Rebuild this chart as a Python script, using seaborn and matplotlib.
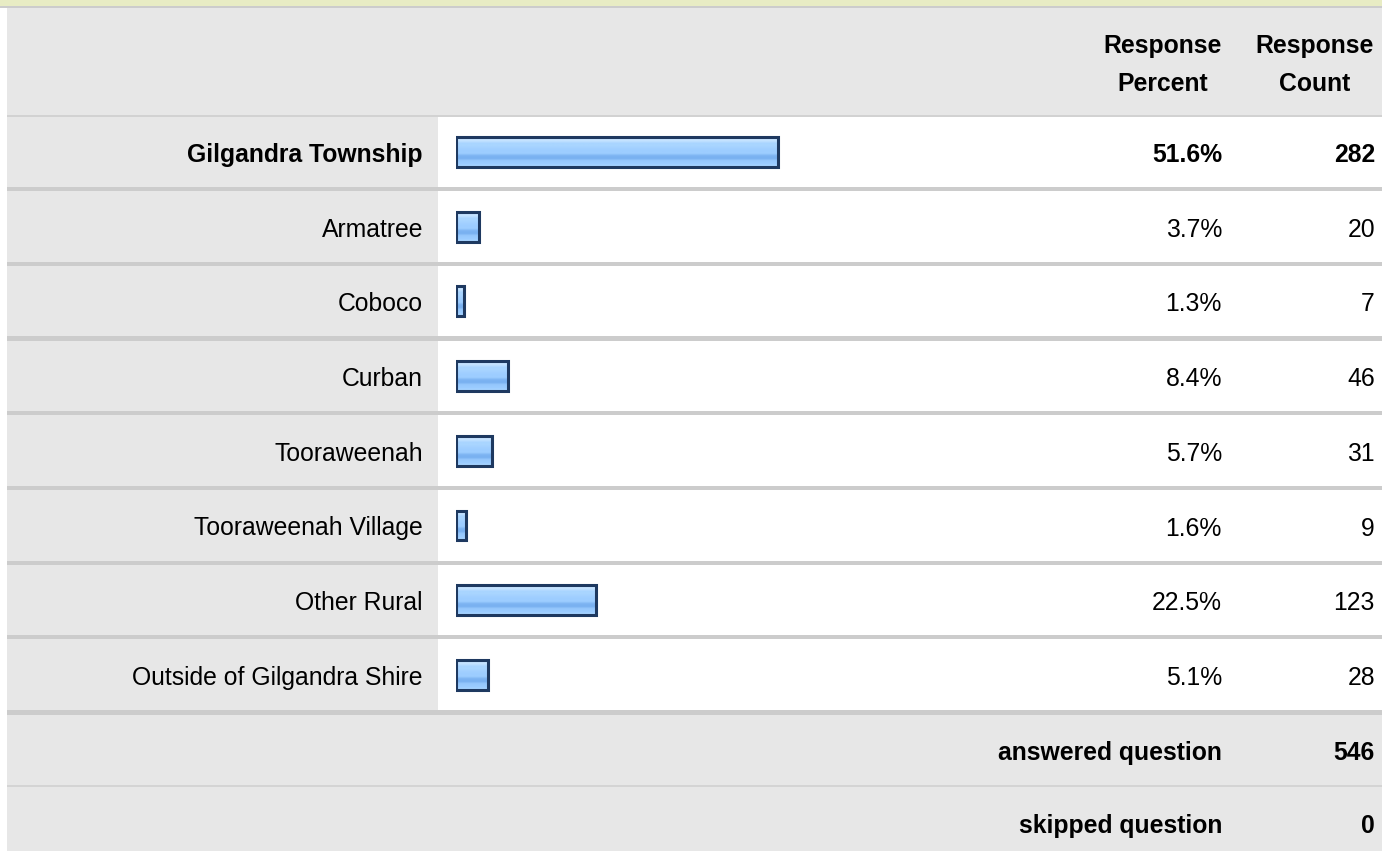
import numpy as np
import matplotlib
matplotlib.use("Agg")
import matplotlib.pyplot as plt
import seaborn as sns
from matplotlib.patches import Rectangle
from matplotlib.colors import to_rgb

# ==========================================================
# DATA
# ==========================================================

locations = [
    "Gilgandra Township",
    "Armatree",
    "Coboco",
    "Curban",
    "Tooraweenah",
    "Tooraweenah Village",
    "Other Rural",
    "Outside of Gilgandra Shire",
]
percents = [51.6, 3.7, 1.3, 8.4, 5.7, 1.6, 22.5, 5.1]
counts = [282, 20, 7, 46, 31, 9, 123, 28]
header_cols = ["Response\nPercent", "Response\nCount"]
answered = 546
skipped = 0

# ==========================================================
# STYLE
# ==========================================================

sns.set_style("white")
plt.rcParams["font.family"] = ["Liberation Sans", "DejaVu Sans"]
plt.rcParams["text.color"] = "black"

W, H = 1382, 851
FS = 17.8
GRAY = "#e7e7e7"
LINE = "#cccccc"

fig = plt.figure(figsize=(W / 100, H / 100), dpi=100)

# background axes in pixel coordinates
bg = fig.add_axes([0, 0, 1, 1])
bg.set_xlim(0, W)
bg.set_ylim(H, 0)
bg.axis("off")


def box(x0, y0, x1, y1, color):
    bg.add_patch(Rectangle((x0, y0), x1 - x0, y1 - y0, color=color, lw=0))


def txt(x, y, s, bold=False, ha="right"):
    bg.text(x, y, s, ha=ha, va="baseline", fontsize=FS,
            fontweight="bold" if bold else "normal", color="black")


PITCH = 74.7
ROW0 = 152.0
centers = [ROW0 + i * PITCH for i in range(len(locations))]

# top strip + header
box(0, 0, W, 6, "#e8ecc4")
box(0, 6, W, 8, LINE)
box(7, 8, W, 115, GRAY)
box(7, 115, W, 117, "#d2d2d2")

# body rows
for i, c in enumerate(centers):
    top = 117 if i == 0 else c - 35.5
    bottom = c + 35
    box(7, top, 438, bottom, GRAY)
    box(438, top, W, bottom, "white")
    box(7, bottom, W, bottom + 5, LINE)

# footer rows
foot_top = centers[-1] + 40
box(7, foot_top, W, 785, GRAY)
box(7, 785, W, 787, "#d4d4d4")
box(7, 787, W, H, GRAY)

# header text
for label, xc in zip(header_cols, [1163, 1315]):
    l1, l2 = label.split("\n")
    txt(xc, 53, l1, bold=True, ha="center")
    txt(xc, 91, l2, bold=True, ha="center")

# row text
for i, (lab, p, n) in enumerate(zip(locations, percents, counts)):
    base = centers[i] + 10
    txt(423, base, lab, bold=(i == 0))
    txt(1222, base, f"{p:.1f}%", bold=(i == 0))
    txt(1375, base, f"{n}", bold=(i == 0))

txt(1222, 760, "answered question", bold=True)
txt(1375, 760, f"{answered}", bold=True)
txt(1222, 833, "skipped question", bold=True)
txt(1375, 833, f"{skipped}", bold=True)

# ==========================================================
# BARS
# ==========================================================

bar_left, bar_w = 456, 624
band_top = ROW0 - PITCH / 2
band_h = PITCH * len(locations)
bar_ax = fig.add_axes([bar_left / W, 1 - (band_top + band_h) / H, bar_w / W, band_h / H])
bar_ax.patch.set_alpha(0)

sns.barplot(x=percents, y=locations, orient="h", ax=bar_ax, color="#9dcdff",
            width=0.40, edgecolor="#1e3960", linewidth=2.2, saturation=1)

# gradient fill like the survey tool's glossy bars
stops = ["#c4e2ff", "#c4e2ff", "#a9d5ff", "#a9d5ff", "#a2d0ff", "#9dcdff",
         "#9dcdff", "#7db4f2", "#78b0f0", "#96c8fd", "#99cbff", "#a6d3ff"]
grad = np.array([to_rgb(c) for c in stops])[:, None, :]
for patch in bar_ax.patches:
    bb = patch.get_bbox()
    im = bar_ax.imshow(grad, extent=(bb.x0, bb.x1, bb.y1, bb.y0), origin="upper",
                       aspect="auto", interpolation="bilinear", zorder=1)
    im.set_clip_path(patch)
    patch.set_facecolor("none")
    patch.set_zorder(3)

bar_ax.set_xlim(0, 100)
bar_ax.set_ylim(len(locations) - 0.5, -0.5)
bar_ax.axis("off")

fig.savefig("out.png", dpi=100)
